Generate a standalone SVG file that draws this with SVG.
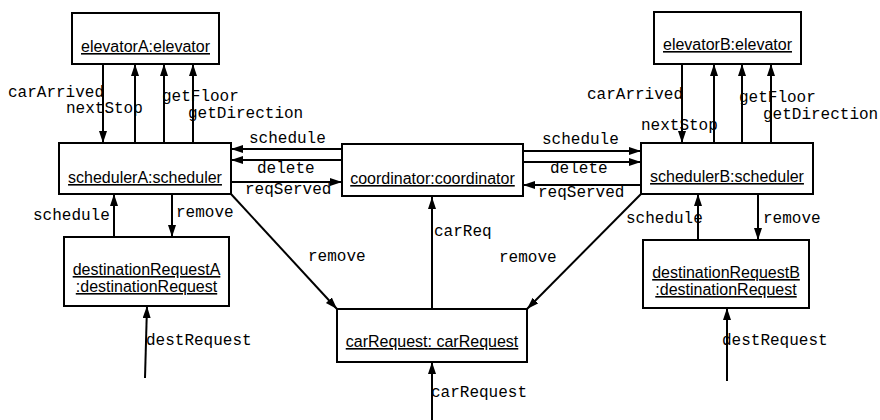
<svg xmlns="http://www.w3.org/2000/svg" width="880" height="420" viewBox="0 0 880 420">
  <style>
    .box { fill: #fff; stroke: #000; stroke-width: 2; }
    .obj { font-family: "Liberation Sans", Arial, sans-serif; font-size: 16px; text-anchor: middle; text-decoration: underline; fill: #000; }
    .msg { font-family: "Liberation Mono", "Courier New", monospace; font-size: 16px; fill: #000; }
    .link { stroke: #000; stroke-width: 2; fill: none; marker-end: url(#head); }
  </style>
  <defs>
    <marker id="head" markerUnits="userSpaceOnUse" markerWidth="13" markerHeight="9" refX="12" refY="4" orient="auto">
      <path d="M0,0 L12,4 L0,8 z" fill="#000"/>
    </marker>
  </defs>
  <rect width="880" height="420" fill="#fff"/>

  <!-- connectors -->
  <g id="connectors">
    <!-- elevatorA / schedulerA -->
    <line class="link" x1="103" y1="64" x2="103" y2="143"/>
    <line class="link" x1="135" y1="143" x2="135" y2="64"/>
    <line class="link" x1="164" y1="143" x2="164" y2="64"/>
    <line class="link" x1="193" y1="143" x2="193" y2="64"/>
    <!-- elevatorB / schedulerB -->
    <line class="link" x1="682" y1="64" x2="682" y2="143"/>
    <line class="link" x1="714" y1="143" x2="714" y2="64"/>
    <line class="link" x1="742" y1="143" x2="742" y2="64"/>
    <line class="link" x1="771" y1="143" x2="771" y2="64"/>
    <!-- coordinator / schedulerA -->
    <line class="link" x1="342" y1="149" x2="231" y2="149"/>
    <line class="link" x1="342" y1="160" x2="231" y2="160"/>
    <line class="link" x1="231" y1="182" x2="342" y2="182"/>
    <!-- coordinator / schedulerB -->
    <line class="link" x1="523" y1="151" x2="641" y2="151"/>
    <line class="link" x1="523" y1="162" x2="641" y2="162"/>
    <line class="link" x1="641" y1="185" x2="523" y2="185"/>
    <!-- schedulerA / destinationRequestA -->
    <line class="link" x1="114" y1="237" x2="114" y2="194"/>
    <line class="link" x1="172" y1="194" x2="172" y2="237"/>
    <line class="link" x1="145" y1="378" x2="147" y2="306"/>
    <!-- schedulers / carRequest -->
    <line class="link" x1="231" y1="194" x2="337" y2="309"/>
    <line class="link" x1="641" y1="194" x2="527" y2="309"/>
    <line class="link" x1="432" y1="309" x2="432" y2="197"/>
    <line class="link" x1="432" y1="420" x2="432" y2="362"/>
    <!-- schedulerB / destinationRequestB -->
    <line class="link" x1="698" y1="240" x2="698" y2="194"/>
    <line class="link" x1="758" y1="194" x2="758" y2="240"/>
    <line class="link" x1="727" y1="381" x2="727" y2="308"/>

    <!-- message labels -->
    <text class="msg" x="8" y="97">carArrived</text>
    <text class="msg" x="66" y="113">nextStop</text>
    <text class="msg" x="162" y="101">getFloor</text>
    <text class="msg" x="188" y="118">getDirection</text>

    <text class="msg" x="587" y="99">carArrived</text>
    <text class="msg" x="641" y="130">nextStop</text>
    <text class="msg" x="739" y="102">getFloor</text>
    <text class="msg" x="763" y="119">getDirection</text>

    <text class="msg" x="249" y="143">schedule</text>
    <text class="msg" x="257" y="173">delete</text>
    <text class="msg" x="245" y="194">reqServed</text>

    <text class="msg" x="542" y="144">schedule</text>
    <text class="msg" x="550" y="173">delete</text>
    <text class="msg" x="538" y="197">reqServed</text>

    <text class="msg" x="33" y="220">schedule</text>
    <text class="msg" x="176" y="217">remove</text>
    <text class="msg" x="146" y="345">destRequest</text>

    <text class="msg" x="308" y="261">remove</text>
    <text class="msg" x="434" y="236">carReq</text>
    <text class="msg" x="499" y="262">remove</text>
    <text class="msg" x="431" y="397">carRequest</text>

    <text class="msg" x="626" y="223">schedule</text>
    <text class="msg" x="763" y="223">remove</text>
    <text class="msg" x="722" y="345">destRequest</text>
  </g>

  <!-- nodes -->
  <g id="elevatorA">
    <rect class="box" x="72" y="13" width="147" height="51"/>
    <text class="obj" x="145.5" y="52">elevatorA:elevator</text>
  </g>
  <g id="elevatorB">
    <rect class="box" x="654" y="12" width="147" height="52"/>
    <text class="obj" x="727.5" y="50">elevatorB:elevator</text>
  </g>
  <g id="schedulerA">
    <rect class="box" x="59" y="143" width="172" height="51"/>
    <text class="obj" x="145" y="183">schedulerA:scheduler</text>
  </g>
  <g id="coordinator">
    <rect class="box" x="342" y="144" width="181" height="52"/>
    <text class="obj" x="432.5" y="184">coordinator:coordinator</text>
  </g>
  <g id="schedulerB">
    <rect class="box" x="641" y="143" width="172" height="51"/>
    <text class="obj" x="727" y="182">schedulerB:scheduler</text>
  </g>
  <g id="destinationRequestA">
    <rect class="box" x="64" y="237" width="165" height="69"/>
    <text class="obj" x="146.5" y="275">destinationRequestA</text>
    <text class="obj" x="146.5" y="292">:destinationRequest</text>
  </g>
  <g id="destinationRequestB">
    <rect class="box" x="643" y="240" width="166" height="68"/>
    <text class="obj" x="726" y="278">destinationRequestB</text>
    <text class="obj" x="726" y="295">:destinationRequest</text>
  </g>
  <g id="carRequest">
    <rect class="box" x="337" y="309" width="190" height="53"/>
    <text class="obj" x="432" y="347">carRequest: carRequest</text>
  </g>
</svg>
